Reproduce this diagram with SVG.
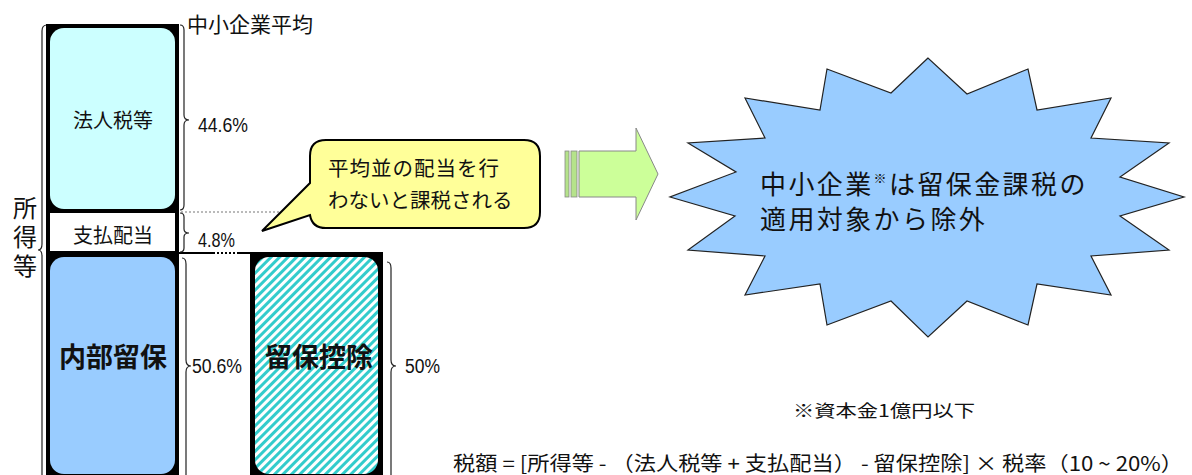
<svg xmlns="http://www.w3.org/2000/svg" width="1192" height="475" viewBox="0 0 1192 475">
<defs>
<pattern id="hatch" patternUnits="userSpaceOnUse" width="6" height="6" patternTransform="rotate(45)">
<rect width="6" height="6" fill="#ffffff"/>
<rect width="3" height="6" fill="#33CCCC"/>
</pattern>
</defs>
<style>
.jp{font-family:"Noto Sans CJK JP","Noto Sans CJK SC",sans-serif;fill:#111;}
.num{font-family:"Liberation Sans",Arial,sans-serif;fill:#111;}
.brace{fill:none;stroke:#222;stroke-width:1.2;}
.frame{fill:#000;}
</style>
<rect width="1192" height="475" fill="#fff"/>

<g id="connectors">
<line x1="181" y1="212" x2="300" y2="212" stroke="#777" stroke-width="1.2" stroke-dasharray="2 2"/>
<line x1="179" y1="253" x2="213" y2="253" stroke="#000" stroke-width="2"/>
<line x1="213" y1="253" x2="238" y2="253" stroke="#000" stroke-width="2" stroke-dasharray="2 2"/>
<line x1="238" y1="253" x2="252" y2="253" stroke="#000" stroke-width="2"/>
</g>

<g id="label-chusho">
<text class="jp" x="187" y="32" font-size="21">中小企業平均</text>
</g>

<g id="label-shotoku">
<text class="jp" x="25" y="196" font-size="24" letter-spacing="5" writing-mode="vertical-rl">所得等</text>
<path class="brace" d="M47 25 Q42 25 42 31 L42 244 Q42 250 38 250 Q42 250 42 256 L42 480"/>
</g>

<g id="node-hojinzei">
<rect class="frame" x="46" y="24" width="133" height="188"/>
<rect x="50" y="28" width="125" height="181" rx="14" fill="#CCFFFF"/>
<text class="jp" x="113" y="128" font-size="20" text-anchor="middle">法人税等</text>
<path class="brace" d="M180 25 Q184 25 184 30 L184 115 Q184 120 189 120 Q184 120 184 125 L184 205 Q184 210 180 210"/>
<text class="num" x="198" y="132" font-size="20" textLength="50" lengthAdjust="spacingAndGlyphs">44.6%</text>
</g>

<g id="node-shiharai">
<rect x="48" y="211" width="129" height="42" fill="#fff" stroke="#000" stroke-width="4"/>
<text class="jp" x="113" y="243" font-size="20" text-anchor="middle">支払配当</text>
<path class="brace" d="M180 213 Q184 213 184 217 L184 229 Q184 233 189 233 Q184 233 184 237 L184 248 Q184 252 180 252"/>
<text class="num" x="198" y="247" font-size="20" textLength="37" lengthAdjust="spacingAndGlyphs">4.8%</text>
</g>

<g id="node-naibu">
<rect class="frame" x="46" y="253" width="133" height="230"/>
<rect x="50" y="257" width="125" height="217" rx="14" fill="#99CCFF"/>
<text class="jp" x="113" y="367" font-size="27" font-weight="bold" text-anchor="middle">内部留保</text>
<path class="brace" d="M182 258 Q186 258 186 264 L186 360 Q186 366 191 366 Q186 366 186 372 L186 480"/>
<text class="num" x="192" y="373" font-size="20" textLength="50" lengthAdjust="spacingAndGlyphs">50.6%</text>
</g>

<g id="node-ryuho">
<rect class="frame" x="250" y="252" width="133" height="231"/>
<rect x="255" y="257" width="123" height="217" rx="14" fill="url(#hatch)"/>
<text class="jp" x="319" y="367" font-size="27" font-weight="bold" text-anchor="middle">留保控除</text>
<path class="brace" d="M387 262 Q391 262 391 268 L391 360 Q391 366 396 366 Q391 366 391 372 L391 480"/>
<text class="num" x="405" y="373" font-size="20" textLength="35" lengthAdjust="spacingAndGlyphs">50%</text>
</g>

<g id="node-bubble">
<path d="M326 140 H524 Q540 140 540 156 V212 Q540 228 524 228 H326 Q312 228 310 215 L262 231 L310 183 V156 Q310 140 326 140 Z" fill="#FFFF99" stroke="#000" stroke-width="2"/>
<text class="jp" x="328" y="176" font-size="20.5" letter-spacing="1">平均並の配当を行</text>
<text class="jp" x="328" y="208" font-size="20.5">わないと課税される</text>
</g>

<g id="node-arrow">
<rect x="565" y="151" width="4" height="46" fill="#B5E38A" stroke="#888" stroke-width="0.8"/>
<rect x="571" y="151" width="6" height="46" fill="#B5E38A" stroke="#888" stroke-width="0.8"/>
<path d="M579 151 H636 V128 L658 174 L636 220 V197 H579 Z" fill="#CCFF99" stroke="#888" stroke-width="1"/>
</g>

<g id="node-star">
<polygon points="928,58 891,93 827,69 820,110 745,98 765,138 688,143 736,172 670,197 735,216 688,250 765,256 745,295 820,284 827,325 891,301 928,337 967,301 1028,325 1037,284 1111,295 1091,256 1169,250 1120,216 1184,197 1120,177 1169,143 1091,138 1111,98 1037,110 1028,69 967,94" fill="#99CCFF" stroke="#222" stroke-width="1.2"/>
<text class="jp" x="760" y="194" font-size="26" letter-spacing="2.4">中小企業<tspan font-size="13" dy="-11">※</tspan><tspan dy="11">は留保金課税の</tspan></text>
<text class="jp" x="760" y="229" font-size="26" letter-spacing="2.4">適用対象から除外</text>
</g>

<g id="notes">
<text class="jp" x="793" y="417" font-size="17" textLength="182" lengthAdjust="spacingAndGlyphs">※資本金1億円以下</text>
<text class="jp" x="453" y="471" font-size="20" textLength="730" lengthAdjust="spacingAndGlyphs">税額 = [所得等 - （法人税等 + 支払配当） - 留保控除] × 税率（10 ~ 20%）</text>
</g>
</svg>
